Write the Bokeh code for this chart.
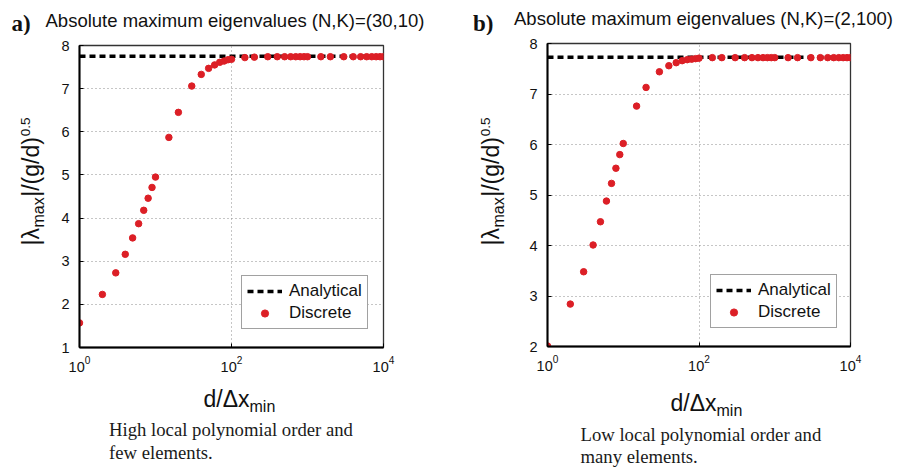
import math
from bokeh.plotting import figure
from bokeh.models import Range1d, FixedTicker, Label, Legend, LegendItem, LogTickFormatter
from bokeh.layouts import row, column
from bokeh.embed import file_html
from bokeh.resources import INLINE

# ---------------- data ----------------
x_vals = [1, 2, 3, 4, 5, 6, 7, 8, 9, 10,
          15, 20, 30, 40, 50, 60, 70, 80, 90, 100,
          150, 200, 300, 400, 500, 600, 700, 800, 900, 1000,
          1500, 2000, 3000, 4000, 5000, 6000, 7000, 8000, 9000, 10000]

y_a = [1.57, 2.23, 2.73, 3.16, 3.54, 3.87, 4.18, 4.46, 4.71, 4.95,
       5.87, 6.45, 7.06, 7.33, 7.47, 7.55, 7.61, 7.64, 7.67, 7.68,
       7.72, 7.73, 7.74, 7.74, 7.74, 7.74, 7.74, 7.74, 7.74, 7.74,
       7.74, 7.74, 7.74, 7.74, 7.74, 7.74, 7.74, 7.74, 7.74, 7.74]

y_b = [2.01, 2.84, 3.48, 4.01, 4.47, 4.88, 5.23, 5.53, 5.80, 6.02,
       6.76, 7.13, 7.44, 7.56, 7.62, 7.66, 7.68, 7.69, 7.70, 7.71,
       7.72, 7.72, 7.72, 7.72, 7.72, 7.72, 7.72, 7.72, 7.72, 7.72,
       7.72, 7.72, 7.72, 7.72, 7.72, 7.72, 7.72, 7.72, 7.72, 7.72]

analytic_a = 7.75
analytic_b = 7.73

x_ticks = [1, 100, 10000]
y_ticks_a = [1, 2, 3, 4, 5, 6, 7, 8]
y_ticks_b = [2, 3, 4, 5, 6, 7, 8]

titles = ["Absolute maximum eigenvalues (N,K)=(30,10)",
          "Absolute maximum eigenvalues (N,K)=(2,100)"]
panel_tags = ["a)", "b)"]
captions = [["High local polynomial order and", "few elements."],
            ["Low local polynomial order and", "many elements."]]
legend_labels = ["Analytical", "Discrete"]

RED = "#dc1f26"
SANS = "Liberation Sans"
SERIF = "Liberation Serif"
BASE_FIX = 0.32    # measured offset of Bokeh's drawn baseline from the anchor (em)

# approximate Liberation Sans advance widths (per 1000 em), used to place sub/superscripts
W = {'|': 260, 'λ': 500, 'm': 833, 'a': 556, 'x': 500, '/': 278, '(': 333, ')': 333,
     'g': 556, 'd': 556, '0': 556, '.': 278, '5': 556, 'Δ': 668, 'i': 222, 'n': 556}

TOP_H, MID_H, BOT_H = 35, 345, 87


def tw(s, size):
    return sum(W.get(c, 556) for c in s) * size / 1000.0


def text_fig(x0, w, h, y_top, y_bot, bt=0, bb=0):
    """A blank figure whose frame maps data coordinates onto page pixels (y downward)."""
    f = figure(width=w, height=h, x_range=Range1d(x0, x0 + w), y_range=Range1d(y_bot, y_top),
               x_axis_location=None, y_axis_location=None, min_border=0,
               min_border_top=bt, min_border_bottom=bb,
               output_backend="svg", toolbar_location=None)
    f.outline_line_color = None
    f.grid.visible = False
    f.background_fill_color = "white"
    f.border_fill_color = "white"
    return f


def lab(f, x, y, text, size, font=SANS, style="normal", color="#111111"):
    f.add_layout(Label(x=x, y=y - BASE_FIX * size, text=text, text_font=font,
                       text_font_size=f"{size}px", text_font_style=style,
                       text_align="left", text_baseline="alphabetic", text_color=color))


def vlab(f, x, y, text, size, color="#111111"):
    f.add_layout(Label(x=x - BASE_FIX * size, y=y, text=text, text_font=SANS,
                       text_font_size=f"{size}px", angle=math.pi / 2,
                       text_align="left", text_baseline="alphabetic", text_color=color))


def make_plot(y_vals, analytic, y_ticks, g):
    p = figure(width=g["pw"], height=MID_H, x_axis_type="log",
               x_range=Range1d(x_ticks[0], x_ticks[-1]),
               y_range=Range1d(y_ticks[0], y_ticks[-1]),
               output_backend="svg", toolbar_location=None,
               min_border_left=g["bl"], min_border_right=g["br"],
               min_border_top=g["bt"], min_border_bottom=g["bb"])
    p.background_fill_color = "white"
    p.border_fill_color = "white"
    p.outline_line_color = "#333333"
    p.outline_line_width = 1.3

    p.xaxis.ticker = FixedTicker(ticks=x_ticks)
    p.xaxis.formatter = LogTickFormatter()
    p.yaxis.ticker = FixedTicker(ticks=y_ticks)
    for ax in (p.xaxis[0], p.yaxis[0]):
        ax.axis_line_color = "black"
        ax.axis_line_width = 2
        ax.major_tick_in = 4
        ax.major_tick_out = 0
        ax.major_tick_line_color = "black"
        ax.minor_tick_line_color = None
        ax.major_label_text_font = SANS
        ax.major_label_text_font_size = "14.5px"
        ax.major_label_text_color = "#111111"
    p.yaxis.major_label_standoff = 10
    p.xaxis.major_label_standoff = 8

    p.xgrid.ticker = FixedTicker(ticks=x_ticks)
    p.ygrid.ticker = FixedTicker(ticks=y_ticks)
    for gr in (p.xgrid[0], p.ygrid[0]):
        gr.grid_line_color = "#8c8c8c"
        gr.grid_line_dash = "1 3"
        gr.grid_line_width = 1

    r_line = p.line(x_vals, [analytic] * len(x_vals), line_color="black",
                    line_width=3.5, line_dash="6 4")
    r_pts = p.scatter(x_vals, y_vals, size=6.5, fill_color=RED, line_color=RED)

    leg = Legend(items=[LegendItem(label=legend_labels[0], renderers=[r_line]),
                        LegendItem(label=legend_labels[1], renderers=[r_pts])],
                 location=g["leg"], padding=5, spacing=2, label_standoff=7,
                 glyph_width=35, glyph_height=18, label_height=18,
                 label_text_font=SANS, label_text_font_size="17px",
                 label_text_color="#111111",
                 border_line_color="#444444", border_line_width=1.2,
                 background_fill_color="white", background_fill_alpha=1.0)
    p.add_layout(leg)
    return p


def make_panel(idx, y_vals, analytic, y_ticks, g):
    X, sw = g["x0"], g["sw"]

    top = text_fig(X, 449, TOP_H, 0, TOP_H)
    lab(top, g["tag"][0], g["tag"][1], panel_tags[idx], 23, font=SERIF, style="bold")
    lab(top, g["title"][0], g["title"][1], titles[idx], 18.5)

    # side strip shares the plot's top/bottom borders, so its frame spans the plot frame
    f_top = TOP_H + g["bt"]
    f_bot = TOP_H + MID_H - g["bb"]
    side = text_fig(X, sw, MID_H, f_top, f_bot, bt=g["bt"], bb=g["bb"])
    F, f, s = 23, 16, 13.5
    yb, y0 = g["yl"]
    vlab(side, yb, y0, "|λ", F)
    y1 = y0 - tw("|λ", F) - 0.5
    vlab(side, yb + 5, y1, "max", f)
    y2 = y1 - tw("max", f) - 0.5
    vlab(side, yb, y2, "|/(g/d)", F)
    y3 = y2 - tw("|/(g/d)", F) - 1
    vlab(side, yb - 8.5, y3, "0.5", s)

    p = make_plot(y_vals, analytic, y_ticks, g)

    bot = text_fig(X, 449, BOT_H, TOP_H + MID_H, TOP_H + MID_H + BOT_H)
    x0, by = g["xl"]
    lab(bot, x0, by, "d/Δx", F)
    lab(bot, x0 + tw("d/Δx", F), by + 5.5, "min", f)
    cx, c1, c2 = g["cap"]
    lab(bot, cx, c1, captions[idx][0], 18.7, font=SERIF, color="#1a1a1a")
    lab(bot, cx, c2, captions[idx][1], 18.7, font=SERIF, color="#1a1a1a")

    return column(top, row(side, p), bot)


geo_a = dict(x0=0, sw=54, pw=395, bl=25, br=66, bt=10, bb=33, leg=(162, 18),
             tag=(11, 30), title=(45, 26), yl=(38, 245), xl=(203, 406),
             cap=(108.5, 435, 458))
geo_b = dict(x0=449, sw=70, pw=379, bl=28, br=48, bt=8, bb=34, leg=(163, 18),
             tag=(472.5, 30), title=(513.5, 23.5), yl=(498, 245), xl=(670, 410),
             cap=(580, 439.5, 461.5))

pa = make_panel(0, y_a, analytic_a, y_ticks_a, geo_a)
pb = make_panel(1, y_b, analytic_b, y_ticks_b, geo_b)

layout = row(pa, pb)
open("out.html", "w").write(file_html(layout, INLINE))
